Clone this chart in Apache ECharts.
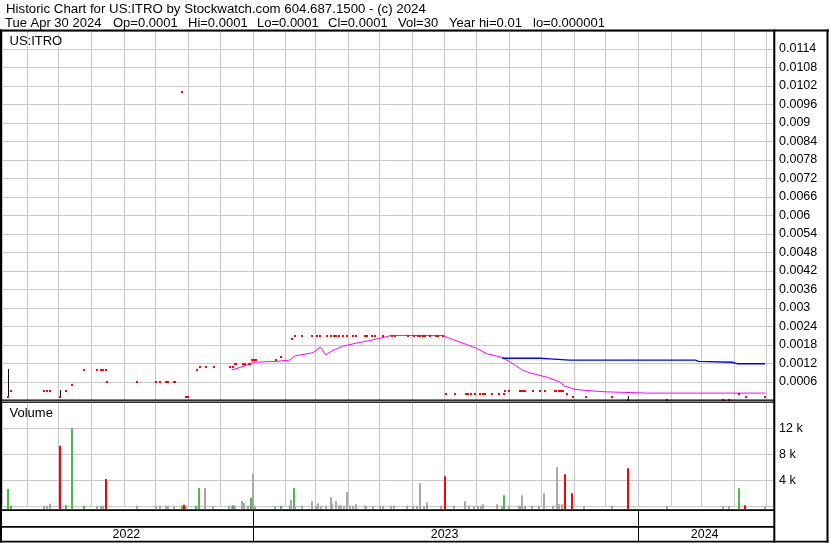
<!DOCTYPE html>
<html><head><meta charset="utf-8">
<script src="https://cdn.jsdelivr.net/npm/echarts@6/dist/echarts.min.js"></script>
<style>html,body{margin:0;padding:0;background:#fff}#c{width:830px;height:543px}</style>
</head><body><div id="c"></div>
<script>
// ---------------- data ----------------
const headerLine1 = 'Historic Chart for US:ITRO by Stockwatch.com 604.687.1500 - (c) 2024';
const headerFields = ['Tue Apr 30 2024', 'Op=0.0001', 'Hi=0.0001', 'Lo=0.0001', 'Cl=0.0001', 'Vol=30', 'Year hi=0.01', 'lo=0.000001'];
const symbolLabel = 'US:ITRO';
const volumeLabel = 'Volume';
const yearLabels = ['2022', '2023', '2024'];
const xMin = '2022-05-08 12:00';
const xMax = '2024-05-07 12:00';

const priceDates = ['2022-05-14','2022-05-17','2022-06-17','2022-06-20','2022-06-23','2022-07-02','2022-07-08','2022-07-14','2022-07-25','2022-08-06','2022-08-10','2022-08-12','2022-08-15','2022-08-16','2022-09-13','2022-10-01','2022-10-05','2022-10-11','2022-10-13','2022-10-18','2022-10-19','2022-10-26','2022-10-30','2022-11-01','2022-11-09','2022-11-12','2022-11-18','2022-11-25','2022-12-10','2022-12-13','2022-12-15','2022-12-16','2022-12-23','2022-12-25','2022-12-28','2022-12-29','2022-12-31','2023-01-02','2023-01-04','2023-01-23','2023-01-28','2023-02-07','2023-02-10','2023-02-17','2023-02-26','2023-03-03','2023-03-06','2023-03-12','2023-03-16','2023-03-19','2023-03-21','2023-03-24','2023-03-27','2023-03-31','2023-04-06','2023-04-09','2023-04-17','2023-04-19','2023-04-24','2023-04-27','2023-05-04','2023-05-13','2023-05-16','2023-05-28','2023-06-03','2023-06-06','2023-06-08','2023-06-11','2023-06-13','2023-06-18','2023-06-23','2023-06-25','2023-06-30','2023-07-03','2023-07-11','2023-07-22','2023-07-24','2023-07-27','2023-07-30','2023-08-04','2023-08-07','2023-08-09','2023-08-15','2023-08-22','2023-08-27','2023-08-28','2023-09-01','2023-09-11','2023-09-12','2023-09-13','2023-09-14','2023-09-15','2023-09-16','2023-09-23','2023-09-30','2023-10-05','2023-10-14','2023-10-15','2023-10-18','2023-10-19','2023-10-20','2023-10-21','2023-10-22','2023-10-25','2023-10-31','2023-11-12','2023-12-07','2023-12-22','2024-01-28','2024-03-21','2024-03-27','2024-04-05','2024-04-12','2024-04-30'];
const priceCloses = [0.0001,0.0003,0.0003,0.0003,0.0003,0.0001,0.0003,0.0005,0.001,0.001,0.001,0.001,0.001,0.0006,0.0006,0.0006,0.0006,0.0006,0.0006,0.0006,0.0006,0.01,0.0001,0.0001,0.001,0.0011,0.0011,0.0011,0.0011,0.0011,0.0012,0.0012,0.0012,0.0012,0.0012,0.0012,0.0013,0.0013,0.0013,0.0013,0.0014,0.002,0.0021,0.0021,0.0021,0.0021,0.0021,0.0021,0.0021,0.0021,0.0021,0.0021,0.0021,0.0021,0.0021,0.0021,0.0021,0.0021,0.0021,0.0021,0.0021,0.0021,0.0021,0.0021,0.0021,0.0021,0.0021,0.0021,0.0021,0.0021,0.0021,0.0021,0.0021,0.0002,0.0002,0.0002,0.0002,0.0002,0.0002,0.0002,0.0002,0.0002,0.0002,0.0002,0.0002,0.0003,0.0003,0.0003,0.0003,0.0003,0.0003,0.0003,0.0003,0.0003,0.0003,0.0003,0.0003,0.0003,0.0003,0.0003,0.0003,0.0003,0.0003,0.0002,0.0001,0.0001,0.0001,0.00001,0.00001,0.00001,0.00001,0.0002,0.0001,0.0001];

const rangeDates = ['2022-05-14','2022-07-02','2023-12-22'];
const rangeLows  = [0.0001, 0.0001, 0.000001];
const rangeHighs = [0.00102, 0.00034, 0.00014];

const maShortDates = ['2022-12-12','2022-12-17','2022-12-28','2023-01-01','2023-01-24','2023-02-05','2023-02-10','2023-02-27','2023-03-06','2023-03-11','2023-03-17','2023-03-27','2023-04-09','2023-04-21','2023-05-04','2023-05-12','2023-06-30','2023-07-06','2023-07-18','2023-08-01','2023-08-11','2023-08-25','2023-09-01','2023-09-13','2023-09-20','2023-10-08','2023-10-18','2023-10-23','2023-10-30','2023-11-02','2023-11-18','2023-12-02','2024-01-10','2024-04-30'];
const maShortValues = [0.00099,0.00104,0.00117,0.00124,0.00127,0.00131,0.00145,0.00155,0.00173,0.00148,0.00161,0.00176,0.00186,0.00194,0.00204,0.00211,0.00211,0.00202,0.00187,0.00169,0.00151,0.0014,0.00126,0.00099,0.0009,0.00074,0.00061,0.00047,0.0004,0.00036,0.00031,0.00028,0.00024,0.00024];

const maLongDates = ['2023-08-25','2023-09-30','2023-10-09','2023-10-28','2024-02-24','2024-02-27','2024-03-30','2024-04-04','2024-04-30'];
const maLongValues = [0.00137,0.00137,0.00135,0.00131,0.00131,0.00127,0.00124,0.00119,0.00119];

const volDates = ['2022-05-14','2022-05-17','2022-06-17','2022-06-20','2022-06-23','2022-07-02','2022-07-08','2022-07-14','2022-07-25','2022-08-06','2022-08-10','2022-08-12','2022-08-15','2022-09-13','2022-10-01','2022-10-05','2022-10-11','2022-10-13','2022-10-18','2022-10-26','2022-10-28','2022-10-30','2022-11-08','2022-11-11','2022-11-17','2022-11-24','2022-12-09','2022-12-12','2022-12-13','2022-12-15','2022-12-22','2022-12-24','2022-12-27','2022-12-30','2023-01-01','2023-01-03','2023-01-22','2023-01-28','2023-02-05','2023-02-06','2023-02-09','2023-02-10','2023-02-17','2023-02-26','2023-03-02','2023-03-04','2023-03-07','2023-03-11','2023-03-16','2023-03-17','2023-03-21','2023-03-24','2023-03-25','2023-03-28','2023-03-31','2023-04-03','2023-04-06','2023-04-09','2023-04-17','2023-04-18','2023-04-25','2023-05-01','2023-05-04','2023-05-12','2023-05-15','2023-05-27','2023-06-02','2023-06-05','2023-06-08','2023-06-12','2023-06-15','2023-06-28','2023-07-02','2023-07-10','2023-07-21','2023-07-25','2023-07-29','2023-08-02','2023-08-05','2023-08-07','2023-08-20','2023-08-25','2023-08-27','2023-09-01','2023-09-10','2023-09-11','2023-09-13','2023-09-16','2023-09-22','2023-09-29','2023-10-04','2023-10-12','2023-10-16','2023-10-18','2023-10-21','2023-10-24','2023-10-30','2023-11-11','2023-12-07','2023-12-22','2024-01-28','2024-03-21','2024-03-27','2024-04-05','2024-04-11','2024-04-30'];
const volValues = [2700,100,100,100,400,9300,150,12000,100,100,100,100,4200,100,100,100,100,100,100,100,250,100,100,2800,2800,100,100,100,150,100,800,500,100,1300,5000,100,100,100,100,1000,2800,100,100,770,100,460,100,100,1380,460,770,150,150,100,2150,100,100,300,100,100,100,100,100,100,100,100,100,100,3540,100,620,100,4620,100,770,150,100,100,100,300,300,100,1690,100,100,100,1690,100,100,100,2000,100,6000,300,300,4920,2000,100,100,5850,100,100,100,2770,150,30];
const volDirs = ['u','u','f','f','f','d','u','u','u','f','f','f','d','f','f','f','f','f','f','u','d','f','u','u','f','f','f','f','u','f','f','f','f','u','f','f','f','u','u','f','u','f','f','f','f','f','f','f','f','f','f','f','f','f','f','f','f','f','f','f','f','f','f','f','f','f','f','f','f','f','f','f','d','f','f','f','f','f','f','f','f','f','u','f','f','f','f','f','f','f','f','f','f','f','f','d','d','f','f','d','f','f','f','u','d','f'];

// ---------------- styles ----------------
const FONT = '"Liberation Sans", Arial, sans-serif';
const GRID_COLOR = '#c8c8c8';
const DIR_COLORS = { u: '#4db84d', d: '#ff0000', f: '#a8a8a8' };
const DAY = 86400000;
const headerFieldX = [5, 113, 188, 257, 328, 398, 449, 533];

const chart = echarts.init(document.getElementById('c'), null, { renderer: 'canvas' });

const xAxisBase = (gi) => ({
  type: 'time', gridIndex: gi, min: xMin, max: xMax,
  splitNumber: 24, minInterval: 28 * DAY, maxInterval: 31 * DAY,
  axisLine: { show: false }, axisTick: { show: false }, axisLabel: { show: false },
  splitLine: { show: true, lineStyle: { color: GRID_COLOR, width: 1 } }
});

const priceFmt = v => String(parseFloat(v.toFixed(4)));

const option = {
  animation: false,
  backgroundColor: '#fff',
  grid: [
    { left: 2, top: 31.5, width: 771, height: 369 },
    { left: 2, top: 402.3, width: 771, height: 104 }
  ],
  xAxis: [xAxisBase(0), xAxisBase(1)],
  yAxis: [
    { type: 'value', gridIndex: 0, position: 'right', min: 0, max: 0.0006 * 369 / 18.5, interval: 0.0006,
      axisLine: { show: false }, axisTick: { show: false },
      axisLabel: { margin: 6, fontSize: 12.5, fontFamily: FONT, color: '#000', showMinLabel: false, showMaxLabel: false, formatter: priceFmt },
      splitLine: { show: true, lineStyle: { color: GRID_COLOR, width: 1 } } },
    { type: 'value', gridIndex: 1, position: 'right', min: 0, max: 16000, interval: 4000,
      axisLine: { show: false }, axisTick: { show: false },
      axisLabel: { margin: 6, fontSize: 12.5, fontFamily: FONT, color: '#000', showMinLabel: false, showMaxLabel: false, formatter: v => (v / 1000) + ' k' },
      splitLine: { show: true, lineStyle: { color: GRID_COLOR, width: 1 } } }
  ],
  series: [
    { type: 'custom', xAxisIndex: 0, yAxisIndex: 0, z: 3,
      dimensions: [{ name: 't', type: 'time' }, { name: 'lo', type: 'number' }, { name: 'hi', type: 'number' }],
      encode: { x: 0, y: [1, 2] },
      data: rangeDates.map((d, i) => [d, rangeLows[i], rangeHighs[i]]),
      renderItem: (params, api) => {
        const a = api.coord([api.value(0), api.value(1)]);
        const b = api.coord([api.value(0), api.value(2)]);
        const x = Math.round(a[0]) + 0.5;
        return { type: 'line', shape: { x1: x, y1: a[1], x2: x, y2: b[1] }, style: { stroke: '#000', lineWidth: 1 } };
      } },
    { type: 'line', xAxisIndex: 0, yAxisIndex: 0, z: 4, showSymbol: false, symbol: 'none',
      data: maShortDates.map((d, i) => [d, maShortValues[i]]),
      lineStyle: { color: '#ff00ff', width: 1 } },
    { type: 'line', xAxisIndex: 0, yAxisIndex: 0, z: 4, showSymbol: false, symbol: 'none',
      data: maLongDates.map((d, i) => [d, maLongValues[i]]),
      lineStyle: { color: '#0000ff', width: 1.4 } },
    { type: 'custom', xAxisIndex: 0, yAxisIndex: 0, z: 5,
      dimensions: [{ name: 't', type: 'time' }, { name: 'p', type: 'number' }],
      encode: { x: 0, y: 1 },
      data: priceDates.map((d, i) => [d, priceCloses[i]]),
      renderItem: (params, api) => {
        const p = api.coord([api.value(0), api.value(1)]);
        return { type: 'rect', shape: { x: Math.round(p[0]) - 1, y: Math.round(p[1]) - 1, width: 2, height: 2 }, style: { fill: '#ff0000' } };
      } },
    { type: 'custom', xAxisIndex: 1, yAxisIndex: 1, z: 3,
      dimensions: [{ name: 't', type: 'time' }, { name: 'v', type: 'number' }],
      encode: { x: 0, y: 1 },
      data: volDates.map((d, i) => [d, volValues[i]]),
      renderItem: (params, api) => {
        const p = api.coord([api.value(0), api.value(1)]);
        const base = params.coordSys.y + params.coordSys.height + 2.7;
        const top = Math.min(p[1], base - 1.7);
        return { type: 'rect', shape: { x: Math.round(p[0]) - 1, y: top, width: 2, height: base - top },
                 style: { fill: DIR_COLORS[volDirs[params.dataIndex]] } };
      } }
  ]
};
chart.setOption(option);

// ---------------- frame, texts, year row ----------------
const ts = s => echarts.time.parse(s).getTime();
const px = t => chart.convertToPixel({ xAxisIndex: 0 }, t);
const yearStarts = yearLabels.map(y => ts(y + '-01-01'));
const xLeft = px(ts(xMin)), xRight = px(ts(xMax));

const rect = (x, y, w, h) => ({ type: 'rect', silent: true, z: 100, shape: { x, y, width: w, height: h }, style: { fill: '#000' } });
const text = (x, y, s, size, align) => ({ type: 'text', silent: true, z: 101, x, y,
  style: { text: s, fill: '#000', font: size + 'px ' + FONT, align: align || 'left', verticalAlign: 'middle' } });

const g = [
  rect(0, 29.4, 829, 2),
  rect(0, 29.4, 2, 513),
  rect(773.3, 29.4, 2, 513),
  rect(826.5, 29.4, 2, 513),
  rect(0, 399.4, 774, 1.3),
  rect(0, 401.4, 774, 1.3),
  rect(0, 509.3, 774, 1.7),
  rect(0, 526, 774, 1.7),
  rect(0, 540.7, 828.5, 1.7),
  text(6, 9, headerLine1, 13.25),
  text(9.5, 41.5, symbolLabel, 13),
  text(9.5, 413, volumeLabel, 13)
];
headerFields.forEach((s, i) => g.push(text(headerFieldX[i], 23, s, 13)));
yearStarts.forEach((t, i) => {
  const a = Math.max(px(t), xLeft);
  const b = i + 1 < yearStarts.length ? px(yearStarts[i + 1]) : xRight;
  if (px(t) > xLeft) g.push(rect(Math.round(px(t)), 509.3, 1, 32));
  g.push(text((a + b) / 2 - 1, 535, yearLabels[i], 12.5, 'center'));
});
chart.setOption({ graphic: g });
</script>
</body></html>
